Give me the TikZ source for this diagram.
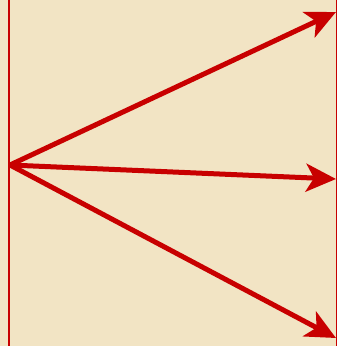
\documentclass[tikz,border=0pt]{standalone}
\usetikzlibrary{arrows.meta}
\definecolor{parch}{RGB}{242,228,196}
\definecolor{arrred}{RGB}{200,0,0}
\tikzset{
  ray/.style={draw=arrred, line width=5pt, -{Stealth[length=30pt,width=28pt,inset=8pt]}},
  edge line/.style={draw=arrred, line width=2pt}
}
\begin{document}
\begin{tikzpicture}[x=1pt,y=-1pt]
\fill[parch] (0,0) rectangle (337,346);
\useasboundingbox (0,0) rectangle (337,346);
\draw[edge line] (9,0) -- (9,346);
\draw[arrred, line width=1pt] (336.5,0) -- (336.5,346);
\coordinate (o) at (10,165);
\coordinate (t1) at (336,12);
\coordinate (t2) at (336,179);
\coordinate (t3) at (336,338);
\draw[ray] (o) -- (t1);
\draw[ray] (o) -- (t2);
\draw[ray] (o) -- (t3);
\end{tikzpicture}
\end{document}
